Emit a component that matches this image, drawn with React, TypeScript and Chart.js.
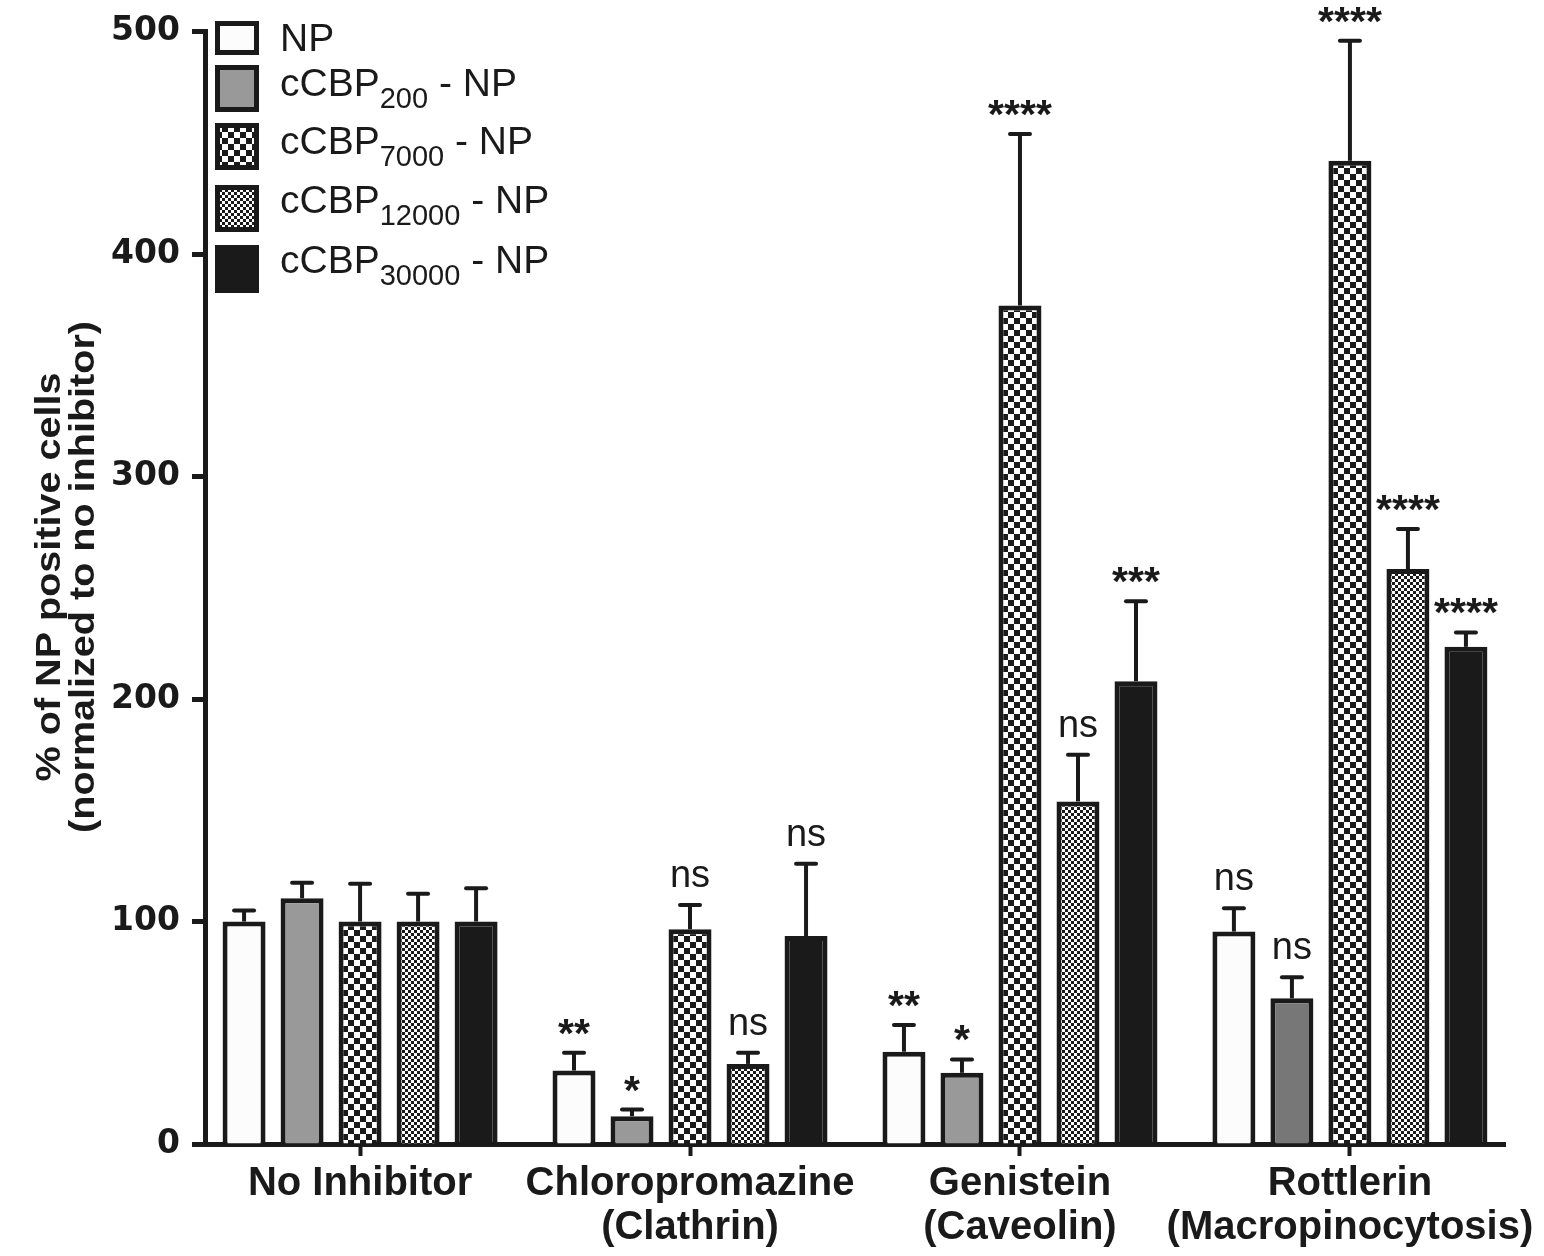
import React, { useEffect, useRef } from 'react';
import { Chart, registerables } from 'chart.js';

Chart.register(...registerables);

// ---------- data ----------
const categories: string[][] = [
  ['No Inhibitor'],
  ['Chloropromazine', '(Clathrin)'],
  ['Genistein', '(Caveolin)'],
  ['Rottlerin', '(Macropinocytosis)'],
];

const seriesMain = ['NP', 'cCBP', 'cCBP', 'cCBP', 'cCBP'];
const seriesSub = ['', '200', '7000', '12000', '30000'];

const npValues = [100, 33, 41.5, 95.5];
const npErrors = [5, 8, 12, 10.5];
const npSig = ['', '**', '**', 'ns'];

const cbp200Values = [110.5, 12.5, 32, 65.5];
const cbp200Errors = [7, 3, 6, 9.5];
const cbp200Sig = ['', '*', '*', 'ns'];

const cbp7000Values = [100, 96.5, 377, 442];
const cbp7000Errors = [17, 11, 77, 54];
const cbp7000Sig = ['', 'ns', '****', '****'];

const cbp12000Values = [100, 36, 154, 258.5];
const cbp12000Errors = [12.5, 5, 21, 18];
const cbp12000Sig = ['', 'ns', 'ns', '****'];

const cbp30000Values = [100, 93.5, 208, 223.5];
const cbp30000Errors = [15, 32.5, 36, 6.5];
const cbp30000Sig = ['', 'ns', '***', '****'];

const yTicks = [0, 100, 200, 300, 400, 500];
const yTitle = ['% of NP positive cells', '(normalized to no inhibitor)'];

const allValues = [npValues, cbp200Values, cbp7000Values, cbp12000Values, cbp30000Values];
const allErrors = [npErrors, cbp200Errors, cbp7000Errors, cbp12000Errors, cbp30000Errors];
const allSig = [npSig, cbp200Sig, cbp7000Sig, cbp12000Sig, cbp30000Sig];

// ---------- styles ----------
const INK = '#1a1a1a';
const GRAY = '#999999';
const DARK_GRAY = '#777777';
const WHITE = '#fcfcfc';
const SANS = '"Liberation Sans", Arial, sans-serif';

function makeChecker(cell: number): CanvasPattern | string {
  const c = document.createElement('canvas');
  c.width = cell * 2;
  c.height = cell * 2;
  const g = c.getContext('2d');
  if (!g) return INK;
  g.fillStyle = '#ffffff';
  g.fillRect(0, 0, cell * 2, cell * 2);
  g.fillStyle = INK;
  g.fillRect(0, 0, cell, cell);
  g.fillRect(cell, cell, cell, cell);
  const p = g.createPattern(c, 'repeat');
  return p || INK;
}

export default function App() {
  const ref = useRef<HTMLCanvasElement | null>(null);

  useEffect(() => {
    document.body.style.margin = '0';
    const canvas = ref.current;
    if (!canvas) return;

    const bigChecker = makeChecker(6);
    const smallChecker = makeChecker(3);
    const fills: any[] = [
      WHITE,
      [GRAY, GRAY, GRAY, DARK_GRAY],
      bigChecker,
      smallChecker,
      INK,
    ];
    const legendFills: any[] = [WHITE, GRAY, bigChecker, smallChecker, INK];

    const overlay = {
      id: 'overlay',
      afterDatasetsDraw(chart: any) {
        const ctx: CanvasRenderingContext2D = chart.ctx;
        const ys = chart.scales.y;
        ctx.save();
        ctx.strokeStyle = INK;
        ctx.fillStyle = INK;
        allValues.forEach((vals, di) => {
          const meta = chart.getDatasetMeta(di);
          vals.forEach((v, i) => {
            const bar = meta.data[i];
            if (!bar) return;
            const x = bar.x;
            const yTop = ys.getPixelForValue(v);
            const yErr = ys.getPixelForValue(v + allErrors[di][i]);
            ctx.lineCap = 'butt';
            ctx.lineWidth = 4;
            ctx.beginPath();
            ctx.moveTo(x, yTop);
            ctx.lineTo(x, yErr);
            ctx.stroke();
            ctx.lineCap = 'round';
            ctx.beginPath();
            ctx.moveTo(x - 10, yErr);
            ctx.lineTo(x + 10, yErr);
            ctx.stroke();
            const s = allSig[di][i];
            if (s) {
              ctx.textAlign = 'center';
              ctx.textBaseline = 'alphabetic';
              if (s === 'ns') {
                ctx.font = `38px ${SANS}`;
                ctx.fillText(s, x, yErr - 18);
              } else {
                ctx.font = `bold 41px ${SANS}`;
                ctx.fillText(s, x, yErr - 6);
              }
            }
          });
        });
        ctx.restore();
      },
      afterDraw(chart: any) {
        const ctx: CanvasRenderingContext2D = chart.ctx;
        ctx.save();
        // legend
        const boxes = [
          [215, 21, 44, 34],
          [215, 65, 44, 47],
          [215, 123, 44, 47],
          [215, 185, 44, 47],
          [215, 245, 44, 48],
        ];
        const baselines = [51, 96, 154, 213, 273];
        boxes.forEach((b, i) => {
          const [bx, by, bw, bh] = b;
          ctx.fillStyle = legendFills[i];
          ctx.fillRect(bx, by, bw, bh);
          ctx.strokeStyle = INK;
          ctx.lineWidth = 5;
          ctx.strokeRect(bx + 2.5, by + 2.5, bw - 5, bh - 5);
          ctx.fillStyle = INK;
          ctx.textAlign = 'left';
          ctx.textBaseline = 'alphabetic';
          let tx = 280;
          ctx.font = `39px ${SANS}`;
          ctx.fillText(seriesMain[i], tx, baselines[i]);
          tx += ctx.measureText(seriesMain[i]).width;
          if (seriesSub[i]) {
            ctx.font = `29px ${SANS}`;
            ctx.fillText(seriesSub[i], tx, baselines[i] + 12);
            tx += ctx.measureText(seriesSub[i]).width;
            ctx.font = `39px ${SANS}`;
            ctx.fillText(' - NP', tx, baselines[i]);
          }
        });
        // y title
        ctx.fillStyle = INK;
        ctx.font = `bold 35px ${SANS}`;
        ctx.textAlign = 'center';
        ctx.textBaseline = 'alphabetic';
        const cy = 577;
        const titleBaselines = [60, 94];
        yTitle.forEach((t, i) => {
          ctx.save();
          ctx.translate(titleBaselines[i], cy);
          ctx.rotate(-Math.PI / 2);
          ctx.scale(1.13, 1);
          ctx.fillText(t, 0, 0);
          ctx.restore();
        });
        ctx.restore();
      },
    };

    const names = seriesMain.map((m, i) => (seriesSub[i] ? `${m}${seriesSub[i]} - NP` : m));

    const chart = new Chart(canvas, {
      type: 'bar',
      data: {
        datasets: allValues.map((vals, di) => ({
          label: names[di],
          data: vals.map((v, i) => ({ x: i, y: v })),
          backgroundColor: fills[di],
          borderColor: INK,
          borderWidth: 5,
          categoryPercentage: 0.879,
          barPercentage: 0.741,
        })),
      },
      options: {
        responsive: false,
        animation: false,
        devicePixelRatio: 1,
        layout: { padding: { left: 0, right: 39, top: 28, bottom: 0 } },
        plugins: {
          legend: { display: false },
          tooltip: { enabled: false },
        },
        scales: {
          x: {
            type: 'linear',
            min: -0.47,
            max: 3.47,
            offset: false,
            afterBuildTicks: (s: any) => {
              s.ticks = categories.map((_, i) => ({ value: i }));
            },
            afterFit: (s: any) => {
              s.height = 112;
            },
            ticks: {
              autoSkip: false,
              maxRotation: 0,
              minRotation: 0,
              padding: 6,
              color: INK,
              font: { family: SANS, size: 40, weight: 'bold', lineHeight: 1.1 },
              callback: (v: any) => categories[Math.round(Number(v))] || '',
            },
            grid: {
              display: true,
              drawOnChartArea: false,
              drawTicks: true,
              tickLength: 12,
              tickWidth: 4,
              tickColor: INK,
              offset: false,
            },
            border: { display: true, color: INK, width: 5 },
          },
          y: {
            min: 0,
            max: 500,
            afterBuildTicks: (s: any) => {
              s.ticks = yTicks.map((v) => ({ value: v }));
            },
            afterFit: (s: any) => {
              s.width = 205;
            },
            ticks: {
              padding: 12,
              color: INK,
              font: { family: '"DejaVu Sans", sans-serif', size: 33, weight: 'bold' },
            },
            grid: {
              display: true,
              drawOnChartArea: false,
              drawTicks: true,
              tickLength: 13,
              tickWidth: 5,
              tickColor: INK,
            },
            border: { display: true, color: INK, width: 5 },
          },
        },
      } as any,
      plugins: [overlay],
    });

    return () => {
      chart.destroy();
    };
  }, []);

  return (
    <div style={{ width: 1544, height: 1256, background: '#ffffff' }}>
      <canvas ref={ref} width={1544} height={1256} style={{ display: 'block' }} />
    </div>
  );
}
